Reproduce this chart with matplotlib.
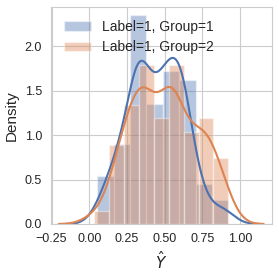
import numpy as np
import matplotlib
matplotlib.use("Agg")
import matplotlib.pyplot as plt
import seaborn as sns

# predicted scores for label=1, one list per group
group1_scores = [
    0.053, 0.085, 0.11, 0.13, 0.145, 0.155,
    0.17, 0.18, 0.195, 0.205, 0.215, 0.225, 0.235, 0.245, 0.255, 0.265,
    0.275, 0.28, 0.285, 0.29, 0.295, 0.30, 0.305, 0.31, 0.315, 0.32,
    0.323, 0.326, 0.33, 0.333, 0.336, 0.34, 0.343, 0.346, 0.35, 0.353,
    0.356, 0.36, 0.364, 0.368, 0.372, 0.376,
    0.385, 0.395, 0.405, 0.415, 0.425, 0.435, 0.44, 0.45, 0.455, 0.46,
    0.465, 0.47, 0.475, 0.48, 0.485,
    0.49, 0.495, 0.50, 0.505, 0.51, 0.515, 0.52, 0.525, 0.53, 0.535,
    0.54, 0.545, 0.55, 0.555, 0.56, 0.565, 0.57, 0.58, 0.59,
    0.598, 0.60, 0.602, 0.605, 0.608, 0.61, 0.613, 0.616, 0.62, 0.623,
    0.626, 0.63, 0.635, 0.64, 0.645, 0.65, 0.655, 0.66,
    0.707, 0.715, 0.725, 0.74, 0.765,
    0.84, 0.88, 0.922,
]
group2_scores = [
    0.031,
    0.14, 0.16, 0.18, 0.20, 0.21, 0.225,
    0.235, 0.245, 0.26, 0.27, 0.28, 0.29, 0.30, 0.31, 0.32,
    0.335, 0.345, 0.35, 0.355, 0.36, 0.365, 0.37, 0.375, 0.38, 0.39, 0.40, 0.41,
    0.435, 0.45, 0.465, 0.48, 0.495, 0.505, 0.515, 0.52,
    0.53, 0.535, 0.54, 0.545, 0.55, 0.555, 0.56, 0.565, 0.57, 0.58, 0.59, 0.605,
    0.63, 0.645, 0.66, 0.675, 0.69, 0.705, 0.715,
    0.73, 0.74, 0.75, 0.765, 0.78, 0.79, 0.80, 0.815,
    0.83, 0.85, 0.87, 0.89, 0.922,
]
group_labels = ["Label=1, Group=1", "Label=1, Group=2"]
group_bins = [8, 9]
group_bw = [0.95, 0.85]

sns.set_style("whitegrid")
plt.rcParams["font.family"] = ["Liberation Sans", "DejaVu Sans"]

fig, ax = plt.subplots(figsize=(2.79, 2.75), dpi=100)
fig.subplots_adjust(left=51 / 279, right=272 / 279, top=1 - 7 / 275, bottom=1 - 224 / 275)

palette = sns.color_palette("deep")
for scores, label, nbins, bw, color in zip([group1_scores, group2_scores], group_labels,
                                           group_bins, group_bw, palette):
    ax.hist(scores, bins=nbins, density=True, alpha=0.4, color=color,
            edgecolor="white", linewidth=1.0, label=label)
    sns.kdeplot(x=scores, ax=ax, color=color, linewidth=1.5, cut=3, bw_adjust=bw)

ax.set_xlim(-0.254, 1.211)
ax.set_ylim(0, 2.44)
ax.set_xticks([-0.25, 0.0, 0.25, 0.5, 0.75, 1.0])
ax.set_yticks([0.0, 0.5, 1.0, 1.5, 2.0])
ax.tick_params(labelsize=9, colors=".15", pad=3)
ax.set_xlabel(r"$\hat{Y}$", fontsize=11, color=".15")
ax.set_ylabel("Density", fontsize=11, color=".15")
ax.legend(loc="upper left", fontsize=10, frameon=False)

plt.savefig("out.png", dpi=100)
